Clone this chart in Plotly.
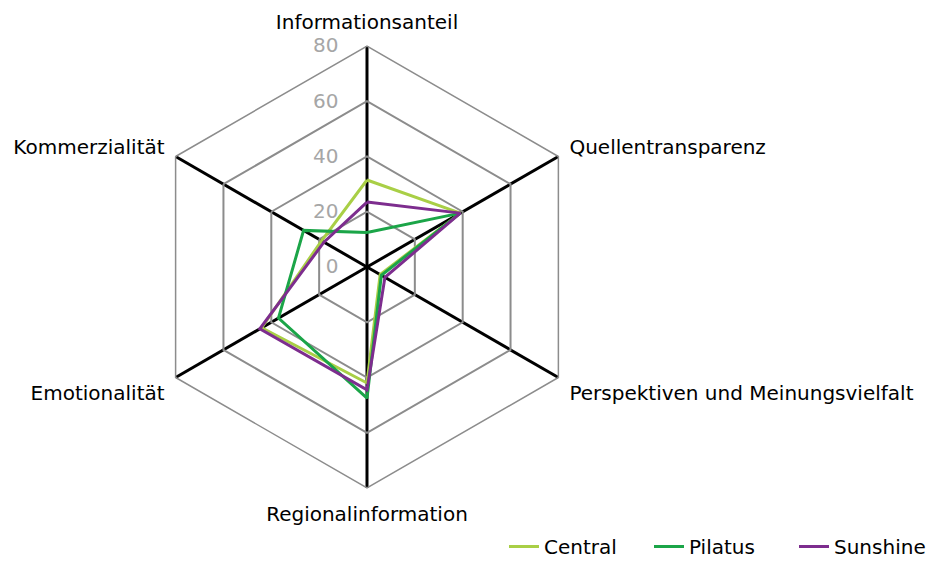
import plotly.graph_objects as go

categories = ["Informationsanteil", "Quellentransparenz", "Perspektiven und Meinungsvielfalt",
              "Regionalinformation", "Emotionalität", "Kommerzialität"]
central = [31.5, 39, 5.5, 42, 44, 19]
pilatus = [12.5, 39, 6, 47.5, 37, 26.5]
sunshine = [23.5, 39, 7.5, 44.5, 44.8, 18]
series_names = ["Central", "Pilatus", "Sunshine"]
colors = ["#A9CF46", "#1BA548", "#7D2D8E"]
radial_ticks = [0, 20, 40, 60, 80]

FONT = "DejaVu Sans"

fig = go.Figure()
for name, vals, col in zip(series_names, [central, pilatus, sunshine], colors):
    fig.add_trace(go.Scatterpolar(
        r=vals + [vals[0]], theta=categories + [categories[0]],
        mode="lines", name=name, line=dict(color=col, width=3),
    ))

fig.update_layout(
    width=931, height=558,
    margin=dict(l=0, r=0, t=0, b=0, autoexpand=False),
    paper_bgcolor="white", plot_bgcolor="white",
    font=dict(family=FONT, size=20, color="#000000"),
    polar=dict(
        domain=dict(x=[0.1482, 0.6230], y=[0.1398, 0.9319]),
        gridshape="linear",
        bgcolor="white",
        radialaxis=dict(
            range=[0, 80], tickvals=radial_ticks, angle=90, tickangle=90,
            showline=False, gridcolor="#8c8c8c", gridwidth=1.5,
            tickfont=dict(color="#a6a6a6", size=20, family=FONT),
            ticks="outside", ticklen=21, tickcolor="rgba(0,0,0,0)",
            side="counterclockwise",
        ),
        angularaxis=dict(
            rotation=90, direction="clockwise",
            showline=True, linecolor="#8c8c8c", linewidth=1.5,
            gridcolor="#000000", gridwidth=3,
            ticks="outside", ticklen=8, tickcolor="rgba(0,0,0,0)",
            tickfont=dict(size=20, family=FONT, color="#000000"),
        ),
    ),
    legend=dict(orientation="h", x=1.0, xanchor="right", y=0.0, yanchor="bottom",
                entrywidth=100, entrywidthmode="pixels",
                font=dict(size=20, family=FONT), traceorder="normal"),
)

fig.write_html("out.html")
